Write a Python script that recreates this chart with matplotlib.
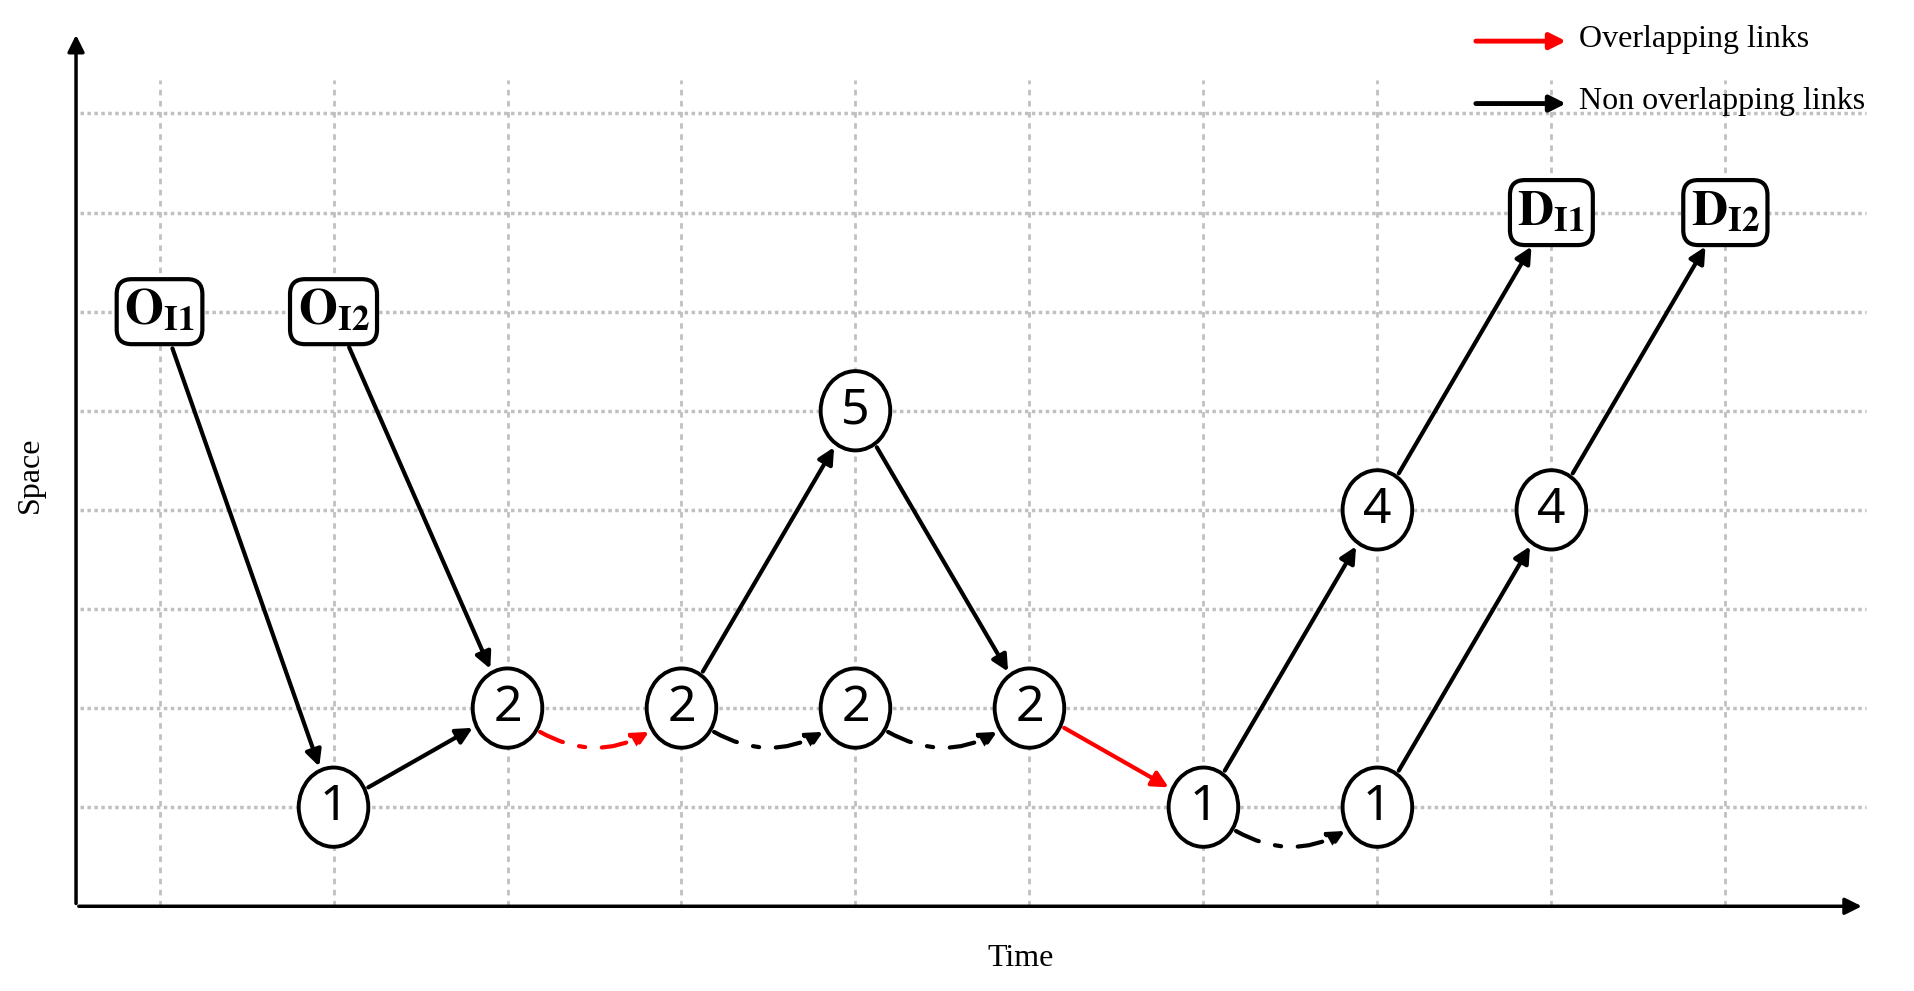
import matplotlib.pyplot as plt
from matplotlib.patches import Ellipse, FancyArrowPatch

plt.rcParams['font.family'] = ['Noto Sans', 'DejaVu Sans']
plt.rcParams['mathtext.fontset'] = 'stix'

# time columns / space rows of the grid
grid_t = list(range(10))
grid_s = list(range(1, 9))

# circle nodes: (time, space, label)
nodes = [(1, 1, '1'), (2, 2, '2'), (3, 2, '2'), (4, 5, '5'), (4, 2, '2'),
         (5, 2, '2'), (6, 1, '1'), (7, 4, '4'), (7, 1, '1'), (8, 4, '4')]
# box nodes: origins / destinations
boxes = [(0, 6, r'$\mathbf{O}_{\mathbf{I1}}$'), (1, 6, r'$\mathbf{O}_{\mathbf{I2}}$'),
         (8, 7, r'$\mathbf{D}_{\mathbf{I1}}$'), (9, 7, r'$\mathbf{D}_{\mathbf{I2}}$')]
# links: (from, to, kind)  kind: 'solid', 'red', 'curve', 'redcurve'
links = [((0, 6), (1, 1), 'solid'), ((1, 6), (2, 2), 'solid'), ((1, 1), (2, 2), 'solid'),
         ((2, 2), (3, 2), 'redcurve'), ((3, 2), (4, 5), 'solid'), ((3, 2), (4, 2), 'curve'),
         ((4, 2), (5, 2), 'curve'), ((4, 5), (5, 2), 'solid'), ((5, 2), (6, 1), 'red'),
         ((6, 1), (7, 4), 'solid'), ((6, 1), (7, 1), 'curve'), ((7, 1), (8, 4), 'solid'),
         ((7, 4), (8, 7), 'solid'), ((8, 4), (9, 7), 'solid')]

fig = plt.figure(figsize=(19.15, 9.91), dpi=100)
ax = fig.add_axes([0, 0, 1, 1])
ax.set_xlim(-0.917, 10.09)
ax.set_ylim(-0.855, 9.145)
ax.axis('off')

# grid
for t in grid_t:
    ax.plot([t, t], [0, 8.34], color='#c0c0c0', lw=2, ls=(0, (2, 2)), zorder=0)
for s in grid_s:
    ax.plot([-0.46, 9.81], [s, s], color='#c0c0c0', lw=2.5, ls=(0, (1, 1)), zorder=0)

# axes arrows
ax.annotate('', xy=(9.8, 0), xytext=(-0.48, 0),
            arrowprops=dict(arrowstyle='-|>', color='black', lw=2.5, mutation_scale=25))
ax.annotate('', xy=(-0.48, 8.82), xytext=(-0.48, 0),
            arrowprops=dict(arrowstyle='-|>', color='black', lw=2.5, mutation_scale=25))
ax.text(4.95, -0.53, 'Time', fontsize=23, family='Liberation Serif', ha='center', va='center')
ax.text(-0.74, 4.35, 'Space', fontsize=23, family='Liberation Serif', ha='center', va='center',
        rotation=90)

patches = {}
for t, s, lab in nodes:
    e = Ellipse((t, s), 0.4, 0.8, facecolor='white', edgecolor='black', lw=2.8, zorder=3)
    ax.add_patch(e)
    patches[(t, s)] = e
    ax.text(t, s, lab, fontsize=36, ha='center', va='center', zorder=4)
for t, s, lab in boxes:
    txt = ax.text(t, s, lab, fontsize=36, ha='center', va='center', zorder=4,
                  bbox=dict(boxstyle='round,pad=0.15,rounding_size=0.3', fc='white', ec='black', lw=3))
    e = Ellipse((t, s), 0.46, 0.72, alpha=0)
    ax.add_patch(e)
    patches[(t, s)] = e

for a, b, kind in links:
    color = 'red' if kind.startswith('red') else 'black'
    curve = kind.endswith('curve')
    arr = FancyArrowPatch(a, b, patchA=patches[a], patchB=patches[b],
                          arrowstyle='-|>', mutation_scale=24, color=color, lw=3,
                          linestyle=(0, (6, 4, 1.5, 4)) if curve else '-',
                          connectionstyle='arc3,rad=0.45' if curve else 'arc3', zorder=2)
    ax.add_patch(arr)

# legend
ax.annotate('', xy=(8.1, 8.73), xytext=(7.55, 8.73),
            arrowprops=dict(arrowstyle='-|>', color='red', lw=3.5, mutation_scale=24))
ax.annotate('', xy=(8.1, 8.1), xytext=(7.55, 8.1),
            arrowprops=dict(arrowstyle='-|>', color='black', lw=3.5, mutation_scale=24))
ax.text(8.16, 8.75, 'Overlapping links', fontsize=23, family='Liberation Serif', va='center')
ax.text(8.16, 8.12, 'Non overlapping links', fontsize=23, family='Liberation Serif', va='center')

fig.savefig('out.png', dpi=100)
